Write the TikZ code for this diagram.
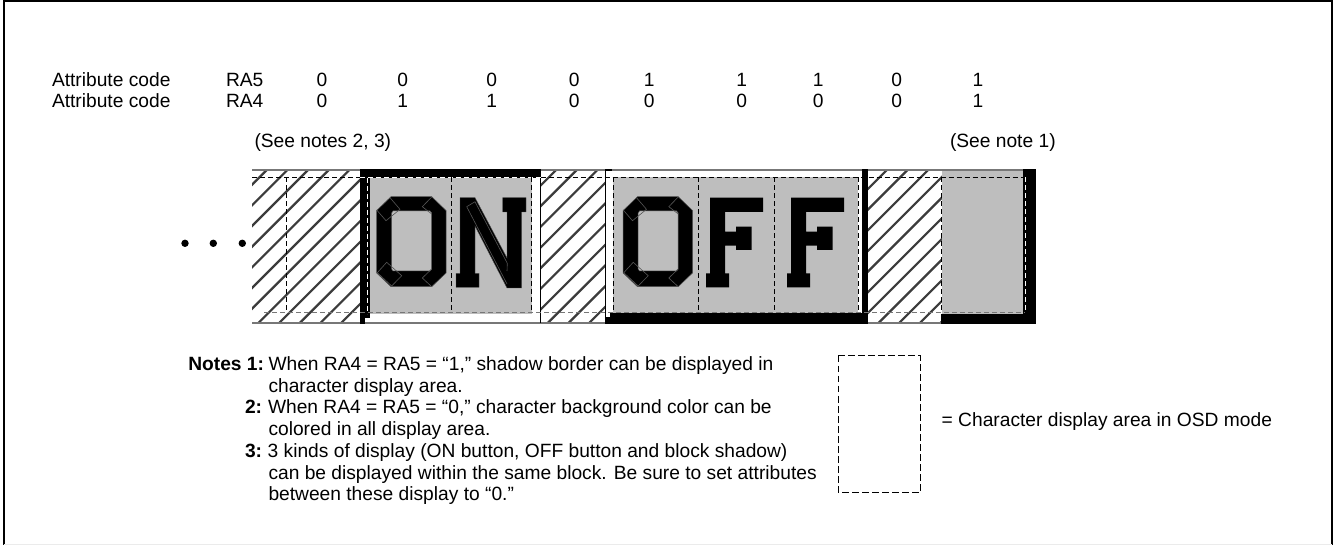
\documentclass[tikz,border=0pt]{standalone}
\usepackage{fontspec}
\setmainfont{Liberation Sans}
\definecolor{panelgray}{HTML}{BEBEBE}
\definecolor{edgegray}{HTML}{777777}
\definecolor{hatchgray}{HTML}{3C3C3C}
\definecolor{glyphedge}{HTML}{555555}
\newcommand{\hatchlines}[2]{%
  \begin{scope}
    \clip (#1,170) rectangle (#2,323);
    \foreach \k in {-4,...,50}{
      \pgfmathsetmacro{\sumv}{436.7+20.67*\k}
      \draw[hatchline] (\sumv-323,323) -- (\sumv-170,170);
    }
  \end{scope}}
\newcommand{\octo}[1]{%
  \begin{scope}[xshift=#1pt]
    \fill[black,draw=glyphedge,line width=.5pt] (391,196.7) -- (431.7,196.7) -- (446,210.5) -- (446,273) -- (431.7,286.7) -- (391,286.7) -- (376.7,273) -- (376.7,210.5) -- cycle;
    \fill[panelgray,draw=glyphedge,line width=.5pt] (393,211) -- (430,211) -- (431.7,213) -- (431.7,269) -- (430,271) -- (393,271) -- (391.7,269) -- (391.7,213) -- cycle;
    \draw[glyphedge,line width=.6pt] (390,197.7) -- (400,209.3) -- (386,220.7) -- (376.7,210);
    \draw[glyphedge,line width=.6pt] (386.7,262.3) -- (401.7,275.7) -- (391.7,286) -- (377.3,272.7) -- cycle;
    \draw[glyphedge,line width=.6pt] (431.7,197) -- (422.3,206.7) -- (431.7,214);
    \draw[glyphedge,line width=.6pt] (431.7,269) -- (422.3,278) -- (431.7,286.7);
  \end{scope}}
\newcommand{\effshape}[1]{%
  \begin{scope}[xshift=#1pt]
    \fill[black] (710,197.7) -- (763,197.7) -- (763,212) -- (725,212) -- (725,231.7) -- (736,231.7) -- (736,226.7) -- (751.7,226.7) -- (751.7,250) -- (736,250) -- (736,245.7) -- (725,245.7) -- (725,273.3) -- (729,273.3) -- (729,287.3) -- (706,287.3) -- (706,273.3) -- (710,273.3) -- cycle;
  \end{scope}}
\tikzset{
  x=1pt,y=-1pt,
  txt/.style={anchor=base west,inner sep=0pt,outer sep=0pt,font=\fontsize{19.2}{22}\selectfont},
  num/.style={anchor=base,inner sep=0pt,outer sep=0pt,font=\fontsize{19.2}{22}\selectfont},
  bf/.style={txt,font=\fontsize{19.2}{22}\selectfont\bfseries},
  hatchline/.style={hatchgray,line width=2.2pt},
  dashline/.style={black,line width=1pt,dash pattern=on 5pt off 3pt},
  dashwhite/.style={white,line width=1pt,dash pattern=on 5pt off 3pt},
  dashgray/.style={edgegray,line width=1pt,dash pattern=on 5pt off 3pt},
  legenddash/.style={black,line width=1pt,dash pattern=on 6.5pt off 3.5pt},
  rail/.style={edgegray,line width=1.5pt},
  thinbar/.style={black,line width=1pt},
  frameline/.style={black,line width=2pt},
  dotmark/.style={circle,fill=black,inner sep=0pt,minimum size=7.4pt}
}
\begin{document}
\begin{tikzpicture}
\useasboundingbox (0,0) rectangle (1334,545);
\fill[white] (0,0) rectangle (1334,545);
% frame
\draw[frameline] (3.5,545) -- (3.5,1.5) -- (1332,1.5) -- (1332,545);
\draw[black!8,line width=.7pt] (3.5,544.4) -- (1332,544.4);
% header text
\foreach \yy/\nm/\ra in {87/a/RA5,108/b/RA4}{
  \node[txt] (attr\nm) at (52,\yy) {Attribute code};
  \node[txt] (reg\nm) at (226,\yy) {\ra};
}
\foreach \xx/\va/\vb [count=\i] in {322/0/0,402.7/0/1,491.7/0/1,574.3/0/0,649.3/1/0,741.7/1/0,818.3/1/0,896.7/0/0,978/1/1}{
  \node[num] (p\i) at (\xx,87) {\va};
  \node[num] (q\i) at (\xx,108) {\vb};
}
\node[txt] (seeA) at (254.5,147.5) {(See notes 2, 3)};
\node[txt] (seeB) at (950,147.5) {(See note 1)};
% dots
\node[dotmark] (d1) at (185,243.3) {};
\node[dotmark] (d2) at (213.3,243.3) {};
\node[dotmark] (d3) at (242.3,243.3) {};
% hatching
\hatchlines{252}{360}
\hatchlines{541}{606}
\hatchlines{868}{942}
% rails
\draw[rail] (252,170) -- (1035.5,170);
\draw[rail] (252,323) -- (1035.5,323);
% ON block
\fill[white] (365,178) rectangle (540.7,322.2);
\fill[panelgray] (369,178) rectangle (532,313.7);
\fill[black] (360,169) rectangle (540.7,178.5);
\fill[black] (360,169) rectangle (370,318.3);
\fill[black] (360,318) rectangle (365,323.6);
\draw[thinbar] (540.7,170) -- (540.7,323.5);
% OFF block
\fill[white] (606,171) rectangle (861.7,313);
\fill[panelgray] (613.3,177.5) rectangle (858,313.7);
\fill[black] (610,313.5) rectangle (868,323.6);
\fill[black] (605.2,317) rectangle (868,323.6);
\fill[black] (861.7,169.5) rectangle (868,323.6);
\fill[black] (605,169.5) rectangle (612,171);
\draw[thinbar] (605.5,170) -- (605.5,323.5);
% shadow block
\fill[panelgray] (942,171) rectangle (1023,314);
\fill[black] (1023,169.5) rectangle (1035.7,323.6);
\fill[black] (941,314) rectangle (1035.7,323.6);
% letters
\octo{0}
\octo{246.5}
\fill[black,draw=glyphedge,line width=.4pt] (460,197.7) -- (475,197.7) -- (507,258) -- (507,212) -- (502.7,212) -- (502.7,197.7) -- (526,197.7) -- (526,212) -- (521.7,212) -- (521.7,288) -- (507,288) -- (475,226) -- (475,273.3) -- (479,273.3) -- (479,287.3) -- (456,287.3) -- (456,273.3) -- (460,273.3) -- cycle;
\draw[glyphedge,line width=.6pt] (466.7,206.7) -- (475,201.7) -- (507.3,263.3) -- (507,271);
\draw[glyphedge,line width=.6pt] (466.7,206.7) -- (507,284);
\effshape{0}
\effshape{81}
% character cell dashes
\draw[dashline] (252,177.3) -- (360,177.3);
\draw[dashwhite] (360,177.3) -- (540.7,177.3);
\draw[dashline] (540.7,177.3) -- (1025,177.3);
\draw[dashgray] (264,313) -- (1025,313);
\draw[dashline] (286.5,177.3) -- (286.5,313);
\draw[dashwhite] (367.5,178) -- (367.5,314);
\foreach \xx in {451,531.8,613.3,698,774,858,941.7}{
  \draw[dashline] (\xx,177.3) -- (\xx,313);
}
\draw[dashwhite] (1025,177.3) -- (1025,313);
% notes
\node[bf] (n1) at (188.3,370.7) {Notes 1:};
\node[txt] (l1) at (268.5,370.7) {When RA4 = RA5 = “1,” shadow border can be displayed in};
\node[txt] (l2) at (268.5,392.3) {character display area.};
\node[bf] (n2) at (245,413.5) {2:};
\node[txt] (l3) at (268,413.5) {When RA4 = RA5 = “0,” character background color can be};
\node[txt] (l4) at (268.5,435.3) {colored in all display area.};
\node[bf] (n3) at (245,457.2) {3:};
\node[txt] (l5) at (267.7,457.2) {3 kinds of display (ON button, OFF button and block shadow)};
\node[txt] (l6) at (268.5,479) {can be displayed within the same block. Be sure to set attributes};
\node[txt] (l7) at (268.5,500.7) {between these display to “0.”};
% legend
\draw[legenddash] (838.3,356) rectangle (920.3,492.3);
\node[txt] (leg) at (941.7,426.7) {= Character display area in OSD mode};
\end{tikzpicture}
\end{document}
